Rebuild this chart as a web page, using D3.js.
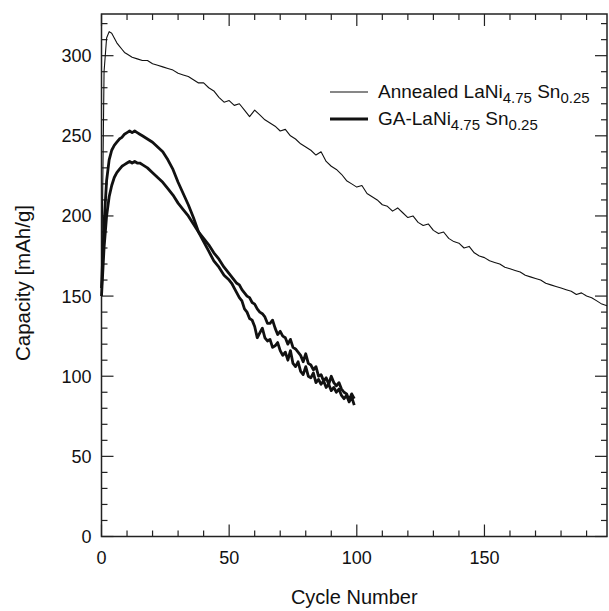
<!DOCTYPE html>
<html>
<head>
<meta charset="utf-8">
<script src="https://cdn.jsdelivr.net/npm/d3@7"></script>
<style>
  body { margin: 0; background: #fff; }
  text { font-family: "Liberation Sans", Arial, sans-serif; fill: #111; }
</style>
</head>
<body>
<div id="chart"></div>
<script>
var svgWidth = 609;
var svgHeight = 611;

// plot box edges in pixels
var plotLeft = 101.5, plotRight = 607, plotTop = 14, plotBottom = 536.5;

// Annealed LaNi4.75Sn0.25 (cycle, capacity)
var annealedCycles = [0, 1, 2, 3, 4, 5, 6, 7, 8, 9, 10,
  12, 14, 16, 18, 20, 22, 24, 26, 28, 30, 32, 34, 36, 38, 40, 42, 44, 46, 48, 50,
  52, 54, 56, 58, 60, 62, 64, 66, 68, 70, 72, 74, 76, 78, 80, 82, 84, 86, 88, 90,
  92, 94, 96, 98, 100, 102, 104, 106, 108, 110, 112, 114, 116, 118, 120, 122, 124, 126, 128, 130,
  132, 134, 136, 138, 140, 142, 144, 146, 148, 150, 152, 154, 156, 158, 160, 162, 164, 166, 168, 170,
  172, 174, 176, 178, 180, 182, 184, 186, 188, 190, 192, 194, 196, 198];
var annealedCapacity = [150, 290, 311, 315, 314, 311, 308, 306, 304, 302, 301,
  299, 298, 297, 297, 295, 294, 293, 292, 291, 289, 288, 287, 285, 283, 283, 280, 278, 274, 271, 272,
  269, 270, 266, 262, 266, 263, 260, 258, 256, 253, 254, 250, 248, 245, 243, 241, 238, 240, 234, 231,
  229, 226, 222, 220, 218, 219, 214, 212, 210, 207, 206, 203, 205, 202, 199, 200, 196, 194, 195, 191,
  189, 190, 186, 184, 183, 180, 181, 177, 175, 174, 172, 171, 170, 168, 167, 166, 165, 163, 162, 161,
  160, 158, 157, 156, 155, 154, 153, 151, 152, 150, 149, 147, 145, 144];

// GA-LaNi4.75Sn0.25, two electrodes
var gaCycles = [0, 1, 2, 3, 4, 5, 6, 7, 8, 9, 10, 11, 12, 13, 14, 15, 16,
  18, 20, 22, 24, 26, 28, 30, 32, 34, 36, 38, 40, 42, 44, 46, 48,
  50, 51, 52, 53, 54, 55, 56, 57, 58, 59, 60, 61, 62, 63, 64, 65, 66, 67, 68, 69,
  70, 71, 72, 73, 74, 75, 76, 77, 78, 79, 80, 81, 82, 83, 84, 85, 86, 87, 88, 89,
  90, 91, 92, 93, 94, 95, 96, 97, 98, 99];
var gaCapacityA = [155, 195, 222, 235, 241, 244, 246, 248, 249, 251, 252, 253, 252, 253, 252, 251, 250,
  248, 246, 243, 240, 235, 229, 221, 214, 207, 199, 190, 184, 178, 172, 168, 163,
  160, 158, 155, 152, 149, 147, 142, 140, 136, 135, 131, 124, 127, 130, 124, 122, 123, 118, 119, 121,
  116, 113, 115, 110, 116, 108, 106, 109, 103, 101, 106, 100, 99, 102, 96, 98, 95, 97, 93, 95,
  91, 93, 90, 92, 88, 86, 88, 84, 87, 82];
var gaCapacityB = [150, 180, 200, 212, 219, 224, 227, 229, 231, 232, 233, 234, 233, 234, 233, 233, 232,
  230, 227, 224, 221, 217, 213, 208, 204, 200, 195, 190, 186, 182, 177, 173, 168,
  164, 162, 160, 158, 157, 154, 152, 150, 149, 146, 145, 142, 140, 139, 137, 133, 133, 135, 130, 126,
  128, 125, 124, 120, 123, 118, 117, 115, 113, 109, 114, 108, 107, 104, 106, 100, 101, 97, 99, 95,
  100, 96, 94, 96, 92, 90, 89, 85, 89, 86];

var svg = d3.select("#chart")
  .append("svg")
  .attr("width", svgWidth)
  .attr("height", svgHeight);

var xScale = d3.scaleLinear().domain([0, 198]).range([plotLeft, plotRight]);
var yScale = d3.scaleLinear().domain([0, 326]).range([plotBottom, plotTop]);

// ticks, all pointing inward
var xMinor = d3.range(0, 199, 10);
var yMinor = d3.range(0, 327, 10);

function tickLen(v) { return v % 50 === 0 ? 12 : 6; }

var ticks = svg.append("g").attr("stroke", "#222").attr("stroke-width", 1.2);

ticks.selectAll(".xb").data(xMinor).enter().append("line")
  .attr("x1", d => xScale(d)).attr("x2", d => xScale(d))
  .attr("y1", plotBottom).attr("y2", d => plotBottom - tickLen(d));
ticks.selectAll(".xt").data(xMinor).enter().append("line")
  .attr("x1", d => xScale(d)).attr("x2", d => xScale(d))
  .attr("y1", plotTop).attr("y2", d => plotTop + tickLen(d));
ticks.selectAll(".yl").data(yMinor).enter().append("line")
  .attr("y1", d => yScale(d)).attr("y2", d => yScale(d))
  .attr("x1", plotLeft).attr("x2", d => plotLeft + tickLen(d));
ticks.selectAll(".yr").data(yMinor).enter().append("line")
  .attr("y1", d => yScale(d)).attr("y2", d => yScale(d))
  .attr("x1", plotRight).attr("x2", d => plotRight - tickLen(d));

// frame
svg.append("rect")
  .attr("x", plotLeft).attr("y", plotTop)
  .attr("width", plotRight - plotLeft).attr("height", plotBottom - plotTop)
  .attr("fill", "none").attr("stroke", "#222").attr("stroke-width", 1.5);

// tick labels
svg.selectAll(".xlab").data([0, 50, 100, 150]).enter().append("text")
  .attr("x", d => xScale(d)).attr("y", plotBottom + 27)
  .attr("text-anchor", "middle").style("font-size", "18px")
  .text(d => d);
svg.selectAll(".ylab").data(d3.range(0, 301, 50)).enter().append("text")
  .attr("x", plotLeft - 10).attr("y", d => yScale(d) + 6.5)
  .attr("text-anchor", "end").style("font-size", "18px")
  .text(d => d);

// axis titles
svg.append("text")
  .attr("x", (plotLeft + plotRight) / 2).attr("y", 604)
  .attr("text-anchor", "middle").style("font-size", "20px")
  .text("Cycle Number");
svg.append("text")
  .attr("transform", "translate(30, 283) rotate(-90)")
  .attr("text-anchor", "middle").style("font-size", "20.5px")
  .text("Capacity [mAh/g]");

// lines
var line = d3.line()
  .x(d => xScale(d[0]))
  .y(d => yScale(d[1]));

svg.append("path")
  .datum(d3.zip(annealedCycles, annealedCapacity))
  .attr("d", line)
  .attr("fill", "none").attr("stroke", "#111").attr("stroke-width", 1.1)
  .attr("stroke-linejoin", "round");

[gaCapacityA, gaCapacityB].forEach(function(series) {
  svg.append("path")
    .datum(d3.zip(gaCycles, series))
    .attr("d", line)
    .attr("fill", "none").attr("stroke", "#111").attr("stroke-width", 2.8)
    .attr("stroke-linejoin", "round");
});

// legend
var legend = svg.append("g");
var legendItems = [
  { main: "Annealed LaNi", width: 1.1, y: 98 },
  { main: "GA-LaNi", width: 2.8, y: 125 }
];
legendItems.forEach(function(item) {
  legend.append("line")
    .attr("x1", 330).attr("x2", 368)
    .attr("y1", item.y - 6).attr("y2", item.y - 6)
    .attr("stroke", "#111").attr("stroke-width", item.width);
  var t = legend.append("text")
    .attr("x", 378).attr("y", item.y)
    .style("font-size", "19px");
  t.append("tspan").text(item.main);
  t.append("tspan").attr("dy", 5).style("font-size", "15px").text("4.75");
  t.append("tspan").attr("dy", -5).text(" Sn");
  t.append("tspan").attr("dy", 5).style("font-size", "15px").text("0.25");
});
</script>
</body>
</html>
